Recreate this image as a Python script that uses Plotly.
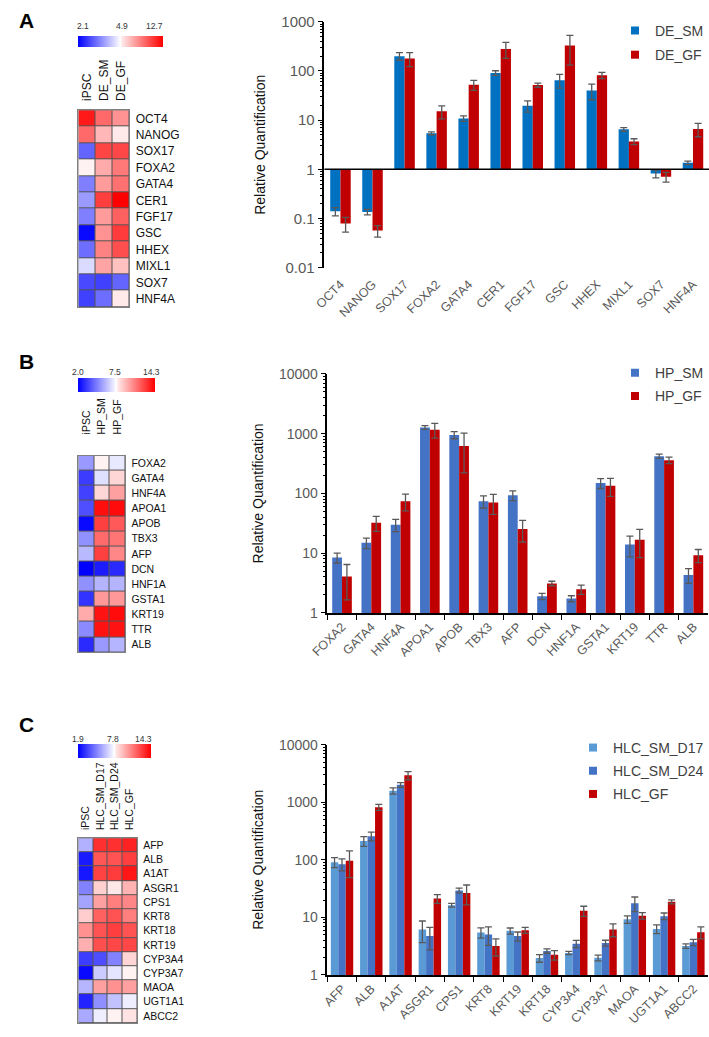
import plotly.graph_objects as go

W, H = 709, 1037
FONT = "Liberation Sans, Arial, sans-serif"

# ---------------- Panel A data ----------------
genes_A = ["OCT4", "NANOG", "SOX17", "FOXA2", "GATA4", "CER1", "FGF17", "GSC", "HHEX", "MIXL1", "SOX7", "HNF4A"]
samples_A = ["iPSC", "DE_SM", "DE_GF"]
heatA_iPSC = [11.9, 9.3, 3.2, 4.9, 3.5, 3.8, 3.5, 2.2, 3.3, 4.5, 2.9, 2.8]
heatA_SM = [9.3, 6.8, 10.5, 7.2, 7.7, 10.7, 7.7, 8.0, 8.5, 7.4, 2.8, 3.3]
heatA_GF = [8.0, 5.2, 10.4, 8.8, 9.1, 12.7, 9.6, 10.8, 10.2, 6.5, 3.2, 5.2]
scaleA = [2.1, 4.9, 12.7]
scaleA_labels = ["2.1", "4.9", "12.7"]

de_sm = [0.14, 0.136, 200, 5.4, 10.8, 91, 19.6, 65, 40, 6.5, 0.82, 1.36]
de_sm_err = [0.027, 0.017, 35, 0.35, 1.4, 10, 5, 20, 14, 0.55, 0.15, 0.11]
de_gf = [0.079, 0.057, 179, 15.1, 52.5, 280, 51.7, 331, 82, 3.69, 0.71, 6.6]
de_gf_err = [0.026, 0.015, 57, 4.5, 12, 100, 5, 200, 12, 0.5, 0.16, 2.0]
ticksA_vals = [0.01, 0.1, 1, 10, 100, 1000]
ticksA_text = ["0.01", "0.1", "1", "10", "100", "1000"]

# ---------------- Panel B data ----------------
genes_B = ["FOXA2", "GATA4", "HNF4A", "APOA1", "APOB", "TBX3", "AFP", "DCN", "HNF1A", "GSTA1", "KRT19", "TTR", "ALB"]
samples_B = ["iPSC", "HP_SM", "HP_GF"]
heatB_iPSC = [5.3, 3.3, 3.4, 3.7, 2.2, 5.1, 6.0, 2.0, 5.1, 3.1, 9.5, 5.0, 2.9]
heatB_SM = [7.5, 6.8, 8.3, 13.9, 12.5, 11.3, 12.5, 2.6, 5.9, 10.0, 13.8, 13.8, 5.3]
heatB_GF = [7.0, 8.3, 9.8, 14.0, 11.8, 11.0, 10.5, 2.9, 5.9, 10.0, 14.0, 13.8, 5.9]
scaleB = [2.0, 7.5, 14.3]
scaleB_labels = ["2.0", "7.5", "14.3"]

hp_sm = [8.45, 14.9, 29.9, 1273, 952, 74, 93, 1.9, 1.74, 149, 14.0, 419, 4.33]
hp_sm_err = [1.6, 3, 7, 90, 130, 17, 17, 0.23, 0.2, 28, 5.3, 34, 1.2]
hp_gf = [4.06, 32.2, 74, 1165, 620, 70.6, 25.4, 3.12, 2.48, 134, 16.7, 360, 9.23]
hp_gf_err = [2.4, 9, 23, 320, 400, 26, 10, 0.27, 0.43, 45, 8.3, 45, 2.3]
ticksBC_vals = [1, 10, 100, 1000, 10000]
ticksBC_text = ["1", "10", "100", "1000", "10000"]

# ---------------- Panel C data ----------------
genes_C_heat = ["AFP", "ALB", "A1AT", "ASGR1", "CPS1", "KRT8", "KRT18", "KRT19", "CYP3A4", "CYP3A7", "MAOA", "UGT1A1", "ABCC2"]
samples_C = ["iPSC", "HLC_SM_D17", "HLC_SM_D24", "HLC_GF"]
heatC_iPSC = [6.0, 2.5, 2.4, 4.9, 5.7, 8.8, 10.4, 9.6, 3.3, 2.1, 6.1, 2.7, 5.8]
heatC_D17 = [13.0, 12.0, 12.5, 8.7, 10.0, 11.7, 12.1, 12.2, 3.7, 6.6, 10.0, 5.2, 7.4]
heatC_D24 = [13.0, 12.1, 12.7, 8.1, 10.9, 12.1, 12.6, 12.4, 4.9, 7.2, 10.4, 6.4, 7.8]
heatC_GF = [13.4, 12.6, 13.7, 9.5, 10.7, 10.9, 12.1, 12.4, 8.6, 7.8, 10.0, 7.4, 8.2]
scaleC = [1.9, 7.8, 14.3]
scaleC_labels = ["1.9", "7.8", "14.3"]

genes_C = ["AFP", "ALB", "A1AT", "ASGR1", "CPS1", "KRT8", "KRT19", "KRT18", "CYP3A4", "CYP3A7", "MAOA", "UGT1A1", "ABCC2"]
hlc_d17 = [91, 212, 1585, 6.15, 16.3, 5.46, 5.83, 1.96, 2.41, 1.98, 9.24, 6.3, 3.18]
hlc_d17_err = [18, 41, 200, 2.5, 1.2, 1.1, 0.7, 0.3, 0.15, 0.23, 1.4, 1.1, 0.28]
hlc_d24 = [84, 258, 2010, 4.72, 29.4, 5.05, 4.72, 2.61, 3.49, 3.58, 17.6, 10.5, 3.68]
hlc_d24_err = [20, 45, 185, 2.0, 2.7, 1.8, 0.85, 0.23, 0.5, 0.42, 5, 1.4, 0.45]
hlc_gf = [96, 821, 2940, 21.2, 26.5, 3.18, 5.99, 2.23, 13.0, 6.15, 10.7, 18.6, 5.53]
hlc_gf_err = [47, 98, 480, 3.7, 10, 1.05, 0.7, 0.42, 2.6, 1.55, 1.4, 1.5, 1.3]

# ---------------- helpers ----------------
def fx(px):
    return px / W


def fy(py):
    return 1 - py / H


def to_t(v, lo, mid, hi):
    if v < mid:
        return 0.5 * (v - lo) / (mid - lo)
    return 0.5 + 0.5 * (v - mid) / (hi - mid)


CS = [[0, "#0000FF"], [0.5, "#FFFFFF"], [0.5, "#FFF2F2"], [1, "#FF0000"]]
BLUE_A = "#0070C0"
BLUE_B = "#4472C4"
LIGHT_C = "#5B9BD5"
RED = "#C00000"
ERR = "#595959"
TICK = "#595959"


def heat_trace(cols, genes, samples, scale, xa, ya, cb):
    rows = list(zip(*cols))
    z = [[to_t(v, *scale) for v in r] for r in rows]
    raw = [list(r) for r in rows]
    return go.Heatmap(
        z=z, x=samples, y=genes, customdata=raw, colorscale=CS, zmin=0, zmax=1,
        xgap=1, ygap=1, xaxis=xa, yaxis=ya,
        hovertemplate="%{y} / %{x}: %{customdata}<extra></extra>",
        colorbar=dict(orientation="h", x=fx(cb[0]), xanchor="left", y=fy(cb[2]), yanchor="top",
                      len=cb[1] - cb[0], lenmode="pixels", thickness=cb[3] - cb[2],
                      thicknessmode="pixels", xpad=0, ypad=0, outlinewidth=0,
                      showticklabels=False, ticks=""),
    )


fig = go.Figure()

# Heatmaps
fig.add_trace(heat_trace([heatA_iPSC, heatA_SM, heatA_GF], genes_A, samples_A, scaleA, "x", "y", (62, 147, 27, 38)))
fig.add_trace(heat_trace([heatB_iPSC, heatB_SM, heatB_GF], genes_B, samples_B, scaleB, "x3", "y3", (62, 139, 375, 389)))
fig.add_trace(heat_trace([heatC_iPSC, heatC_D17, heatC_D24, heatC_GF], genes_C_heat, samples_C, scaleC, "x5", "y5", (62, 135, 747, 761)))


def err(arr):
    return dict(type="data", array=arr, color=ERR, thickness=1.3, width=3.5)


# Panel A bars (drawn from baseline 1)
for vals, errs, color, off, name in [(de_sm, de_sm_err, BLUE_A, -0.32, "DE_SM"), (de_gf, de_gf_err, RED, 0.0, "DE_GF")]:
    fig.add_trace(go.Bar(x=genes_A, y=[v - 1 for v in vals], base=1, marker=dict(color=color, line=dict(width=0)),
                         width=0.32, offset=off, error_y=err(errs), xaxis="x2", yaxis="y2", name=name,
                         showlegend=False, customdata=vals, hovertemplate="%{x}: %{customdata}<extra>" + name + "</extra>"))
    fig.add_trace(go.Scatter(x=[None], y=[None], mode="markers", marker=dict(symbol="square", size=8, color=color),
                             name=name, legend="legend", legendgroup=name, xaxis="x2", yaxis="y2"))

# Panel B bars
for vals, errs, color, off, name in [(hp_sm, hp_sm_err, BLUE_B, -0.335, "HP_SM"), (hp_gf, hp_gf_err, RED, 0.0, "HP_GF")]:
    fig.add_trace(go.Bar(x=genes_B, y=vals, marker=dict(color=color, line=dict(width=0)), width=0.335, offset=off,
                         error_y=err(errs), xaxis="x4", yaxis="y4", name=name, showlegend=False))
    fig.add_trace(go.Scatter(x=[None], y=[None], mode="markers", marker=dict(symbol="square", size=8, color=color),
                             name=name, legend="legend2", legendgroup=name, xaxis="x4", yaxis="y4"))

# Panel C bars
for vals, errs, color, off, name in [(hlc_d17, hlc_d17_err, LIGHT_C, -0.383, "HLC_SM_D17"),
                                      (hlc_d24, hlc_d24_err, BLUE_B, -0.128, "HLC_SM_D24"),
                                      (hlc_gf, hlc_gf_err, RED, 0.128, "HLC_GF")]:
    fig.add_trace(go.Bar(x=genes_C, y=vals, marker=dict(color=color, line=dict(width=0)), width=0.255, offset=off,
                         error_y=err(errs), xaxis="x6", yaxis="y6", name=name, showlegend=False))
    fig.add_trace(go.Scatter(x=[None], y=[None], mode="markers", marker=dict(symbol="square", size=8, color=color),
                             name=name, legend="legend3", legendgroup=name, xaxis="x6", yaxis="y6"))


def heat_axes(xd, yd, fsize, standoff):
    xa = dict(domain=[fx(xd[0]), fx(xd[1])], side="top", tickangle=-90, ticks="", ticklen=0,
              ticklabelstandoff=standoff, tickfont=dict(size=fsize, color="#111"), showline=True, mirror=True,
              linecolor="#808080", linewidth=1, showgrid=False, zeroline=False, fixedrange=True)
    ya = dict(domain=[fy(yd[1]), fy(yd[0])], side="right", autorange="reversed", ticks="", ticklen=0,
              ticklabelstandoff=3, tickfont=dict(size=fsize, color="#111"), showline=True, mirror=True,
              linecolor="#808080", linewidth=1, showgrid=False, zeroline=False, fixedrange=True)
    return xa, ya


def minor_vals(lo_exp, hi_exp):
    return [m * 10 ** e for e in range(lo_exp, hi_exp) for m in range(2, 10)]


def bar_axes(xd, yd, rng, tv, tt, bottom_line, tsize):
    xa = dict(domain=[fx(xd[0]), fx(xd[1])], tickangle=-45, tickfont=dict(size=12.5, color=TICK),
              showgrid=False, zeroline=False, fixedrange=True)
    if bottom_line:
        xa.update(showline=True, linecolor="#000", linewidth=1.5, ticks="outside", tickson="boundaries",
                  ticklen=5, tickcolor="#000", tickwidth=1)
    else:
        xa.update(showline=False, ticks="", ticklabelstandoff=6)
    ya = dict(domain=[fy(yd[1]), fy(yd[0])], type="log", range=rng, tickmode="array", tickvals=tv, ticktext=tt,
              tickfont=dict(size=tsize, color=TICK), ticks="outside", ticklen=5, tickcolor="#000", tickwidth=1,
              showline=True, linecolor="#000", linewidth=1.5, showgrid=False, zeroline=False, fixedrange=True,
              minor=dict(tickvals=minor_vals(int(rng[0]), int(rng[1])), ticks="outside", ticklen=3,
                         tickcolor="#000", tickwidth=1),
              title=dict(text="Relative Quantification", font=dict(size=14, color="#111"), standoff=12))
    return xa, ya


x1, y1 = heat_axes((63, 115), (103, 303), 12, 6)
x3, y3 = heat_axes((63, 111), (454, 654), 10.5, 18)
x5, y5 = heat_axes((63, 123), (843, 1031), 10.5, 5)
x2, y2 = bar_axes((315, 709), (13, 263), [-2, 3], ticksA_vals, ticksA_text, False, 15)
x4, y4 = bar_axes((318, 708), (371, 614), [0, 4], ticksBC_vals, ticksBC_text, True, 14)
x6, y6 = bar_axes((318, 708), (748, 982), [0, 4], ticksBC_vals, ticksBC_text, True, 14)
for xa, ya, n in [(x1, y1, ""), (x2, y2, "2"), (x3, y3, "3"), (x4, y4, "4"), (x5, y5, "5"), (x6, y6, "6")]:
    xa["anchor"] = "y" + n
    ya["anchor"] = "x" + n

# dark background behind heatmaps (cell borders) + baseline at 1 for panel A
shapes = []
for n in ["", "3", "5"]:
    shapes.append(dict(type="rect", xref="x%s domain" % n, yref="y%s domain" % n, x0=0, x1=1, y0=0, y1=1,
                       fillcolor="#555555", line=dict(width=0), layer="below"))
shapes.append(dict(type="line", xref="x2 domain", yref="y2", x0=0, x1=1, y0=1, y1=1,
                   line=dict(color="#000", width=1.5)))

ann = []
for txt, px, py in [("A", 10, 12), ("B", 10, 358), ("C", 10, 727)]:
    ann.append(dict(text="<b>%s</b>" % txt, x=fx(px), y=fy(py), xref="paper", yref="paper", showarrow=False,
                    font=dict(size=21, color="#000", family=FONT), xanchor="center", yanchor="middle"))
for labels, xs, py in [(scaleA_labels, (68, 108, 141), 17), (scaleB_labels, (62, 100, 138), 369),
                       (scaleC_labels, (63, 98, 130), 742)]:
    for lab, px in zip(labels, xs):
        ann.append(dict(text=lab, x=fx(px), y=fy(py), xref="paper", yref="paper", showarrow=False,
                        font=dict(size=8.5, color="#333", family=FONT), xanchor="center", yanchor="middle"))


def legend_at(py, gap):
    return dict(x=1.0, y=fy(py), xanchor="right", yanchor="top", font=dict(size=14, color="#404040", family=FONT),
                bgcolor="rgba(0,0,0,0)", traceorder="grouped", tracegroupgap=gap, itemwidth=30)


fig.update_layout(
    width=W, height=H, margin=dict(l=0, r=0, t=0, b=0), autosize=False,
    paper_bgcolor="#FFFFFF", plot_bgcolor="#FFFFFF",
    font=dict(family=FONT, color="#111"),
    xaxis=x1, yaxis=y1, xaxis2=x2, yaxis2=y2, xaxis3=x3, yaxis3=y3,
    xaxis4=x4, yaxis4=y4, xaxis5=x5, yaxis5=y5, xaxis6=x6, yaxis6=y6,
    shapes=shapes, annotations=ann,
    legend=legend_at(6, 3), legend2=legend_at(354, 2), legend3=legend_at(735, 2),
    barmode="group", showlegend=True,
)

fig.write_html(
    "out.html",
    config={"displayModeBar": False},
    post_script="document.body.style.margin='0px';document.documentElement.style.overflow='hidden';",
)
